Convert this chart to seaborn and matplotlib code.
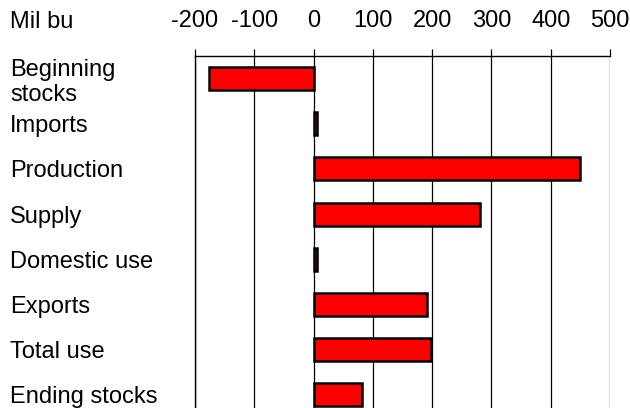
import matplotlib
matplotlib.use("Agg")
import matplotlib.pyplot as plt
import seaborn as sns
import pandas as pd

categories = ["Beginning\nstocks", "Imports", "Production", "Supply",
              "Domestic use", "Exports", "Total use", "Ending stocks"]
values = [-176, 5, 450, 280, 6, 192, 198, 82]
xticks = [-200, -100, 0, 100, 200, 300, 400, 500]
unit_label = "Mil bu"

sns.set_theme(style="white")
plt.rcParams["font.family"] = ["Liberation Sans", "DejaVu Sans"]

FS = 17.0

df = pd.DataFrame({"cat": categories, "val": values})

fig = plt.figure(figsize=(6.3, 4.08), dpi=100)
ax = fig.add_axes([195 / 630, 0, (610 - 195) / 630, (408 - 56) / 408])

sns.barplot(data=df, x="val", y="cat", orient="h", color="#FF0000",
            saturation=1, edgecolor="black", linewidth=1.8, width=0.51, ax=ax)

ax.set_xlim(-200, 500)
ax.set_ylim(7.29, -0.5)
ax.set_xticks(xticks)
ax.set_xticklabels([str(t) for t in xticks])
ax.xaxis.tick_top()
ax.set_xlabel("")
ax.set_ylabel("")
ax.grid(axis="x", color="black", linewidth=0.9)
ax.grid(axis="y", visible=False)
ax.set_axisbelow(True)

for side in ["right", "bottom"]:
    ax.spines[side].set_visible(False)
for side in ["left", "top"]:
    ax.spines[side].set_visible(True)
    ax.spines[side].set_color("black")
    ax.spines[side].set_linewidth(1.0)

ax.tick_params(axis="x", top=True, direction="out", length=5, width=0.9,
               color="black", labelsize=FS, pad=12, labelcolor="black")
ax.tick_params(axis="y", left=False, length=0, labelsize=FS, pad=133,
               labelcolor="black")
for lab in ax.get_yticklabels():
    lab.set_horizontalalignment("left")
    lab.set_linespacing(1.2)

fig.text(10 / 630, 1 - 22 / 408, unit_label, fontsize=FS, va="center",
         ha="left", color="black")

fig.savefig("out.png", dpi=100)
